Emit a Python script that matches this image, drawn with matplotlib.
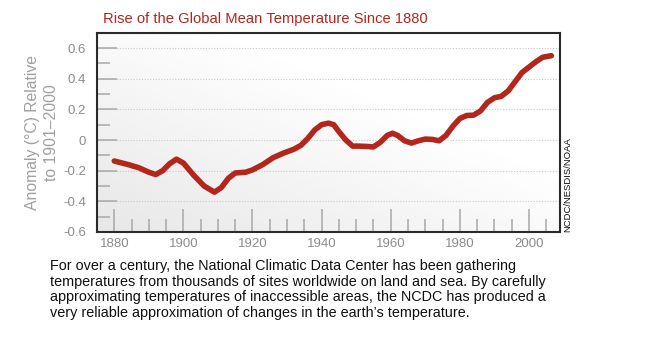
import numpy as np
import matplotlib
matplotlib.use("Agg")
import matplotlib.pyplot as plt
from matplotlib.ticker import MultipleLocator, FixedLocator

plt.rcParams['font.family'] = ['Liberation Sans', 'DejaVu Sans']

# ---- data ----
years = [1880, 1884, 1887, 1890, 1892, 1894, 1896, 1898, 1900, 1903,
         1906, 1909, 1911, 1913, 1915, 1918, 1920, 1923, 1926, 1929,
         1932, 1934, 1936, 1938, 1940, 1942, 1943.5, 1945, 1947, 1949,
         1951, 1953, 1955, 1957, 1959, 1960.5, 1962, 1964, 1966, 1968,
         1970, 1972, 1974, 1976, 1978, 1980, 1982, 1984, 1986, 1988,
         1990, 1992, 1994, 1996, 1998, 2000, 2002, 2004, 2006.5]
anomaly = [-0.137, -0.16, -0.18, -0.21, -0.225, -0.20, -0.155, -0.125, -0.15, -0.23,
           -0.30, -0.34, -0.31, -0.25, -0.215, -0.21, -0.195, -0.16, -0.115, -0.085,
           -0.06, -0.035, 0.01, 0.065, 0.10, 0.11, 0.10, 0.055, 0.0, -0.04,
           -0.04, -0.042, -0.045, -0.015, 0.03, 0.044, 0.03, -0.005, -0.02, -0.005,
           0.006, 0.004, -0.005, 0.03, 0.09, 0.14, 0.16, 0.162, 0.19, 0.245,
           0.275, 0.285, 0.32, 0.38, 0.44, 0.475, 0.51, 0.54, 0.55]

x_major = [1880, 1900, 1920, 1940, 1960, 1980, 2000]
x_labels = ["1880", "1900", "1920", "1940", "1960", "1980", "2000"]
y_major = [-0.6, -0.4, -0.2, 0.0, 0.2, 0.4, 0.6]
y_labels = ["-0.6", "-0.4", "-0.2", "0", "0.2", "0.4", "0.6"]

title = "Rise of the Global Mean Temperature Since 1880"
ylabel_lines = ["Anomaly (°C) Relative", "to 1901\u20132000"]
source = "NCDC/NESDIS/NOAA"
caption = ["For over a century, the National Climatic Data Center has been gathering",
           "temperatures from thousands of sites worldwide on land and sea. By carefully",
           "approximating temperatures of inaccessible areas, the NCDC has produced a",
           "very reliable approximation of changes in the earth\u2019s temperature."]

# ---- figure ----
W, H = 650, 337
fig = plt.figure(figsize=(W / 100, H / 100), dpi=100)
fig.patch.set_facecolor('white')
ax = fig.add_axes([97 / W, 1 - 232 / H, (560 - 97) / W, (232 - 33) / H])

# background gradient (light grey bottom-left to white top-right)
gx, gy = np.meshgrid(np.linspace(0, 1, 200), np.linspace(0, 1, 200))
g = np.clip((gx + gy) / 1.3, 0, 1)
grad = 0.905 + 0.095 * g
ax.imshow(grad, extent=[0, 1, 0, 1], transform=ax.transAxes, origin='lower',
          cmap='gray', vmin=0, vmax=1, aspect='auto', zorder=0, interpolation='bicubic')

ax.set_xlim(1875, 2009)
ax.set_ylim(-0.6, 0.698)

ax.plot(years, anomaly, color='#b3261c', lw=4.0, solid_joinstyle='round',
        solid_capstyle='round', zorder=3)

# grid at major y
for v in y_major[1:]:
    ax.axhline(v, color='#c8c8c8', lw=0.8, ls=(0, (1, 1.5)), zorder=1)

ax.xaxis.set_major_locator(FixedLocator(x_major))
ax.set_xticklabels(x_labels)
ax.xaxis.set_minor_locator(MultipleLocator(5))
ax.yaxis.set_major_locator(FixedLocator(y_major))
ax.set_yticklabels(y_labels)
ax.yaxis.set_minor_locator(FixedLocator([-0.5, -0.3, -0.1, 0.1, 0.3, 0.5]))

tc = '#a8a8a8'
ax.tick_params(axis='x', which='major', direction='in', length=16.5, width=1.1,
               color=tc, labelsize=9.5, labelcolor='#8c8c8c', pad=4, top=False)
ax.tick_params(axis='x', which='minor', direction='in', length=9.4, width=1.1,
               color=tc, top=False)
ax.tick_params(axis='y', which='major', direction='in', length=14.4, width=1.1,
               color=tc, labelsize=9.5, labelcolor='#8c8c8c', pad=8, right=False)
ax.tick_params(axis='y', which='minor', direction='in', length=9.4, width=1.1,
               color=tc, right=False)

for s in ax.spines.values():
    s.set_color('#2a2a2a')
    s.set_linewidth(1.5)
    s.set_zorder(5)

# texts
fig.text(265 / W, 1 - 19 / H, title, color='#b3261c', fontsize=10.6,
         ha='center', va='center')
for xpos, line in zip([33, 52], ylabel_lines):
    fig.text(xpos / W, 1 - 133 / H, line, color='#a0a0a0', fontsize=11.3,
             rotation=90, ha='center', va='center')
fig.text(568 / W, 1 - 232 / H, source, color='#111111', fontsize=6.8,
         rotation=90, ha='center', va='bottom')
for i, line in enumerate(caption):
    fig.text(50 / W, 1 - (266 + i * 15.6) / H, line, color='#111111',
             fontsize=10.4, ha='left', va='center')

fig.savefig('out.png', dpi=100, facecolor='white')
